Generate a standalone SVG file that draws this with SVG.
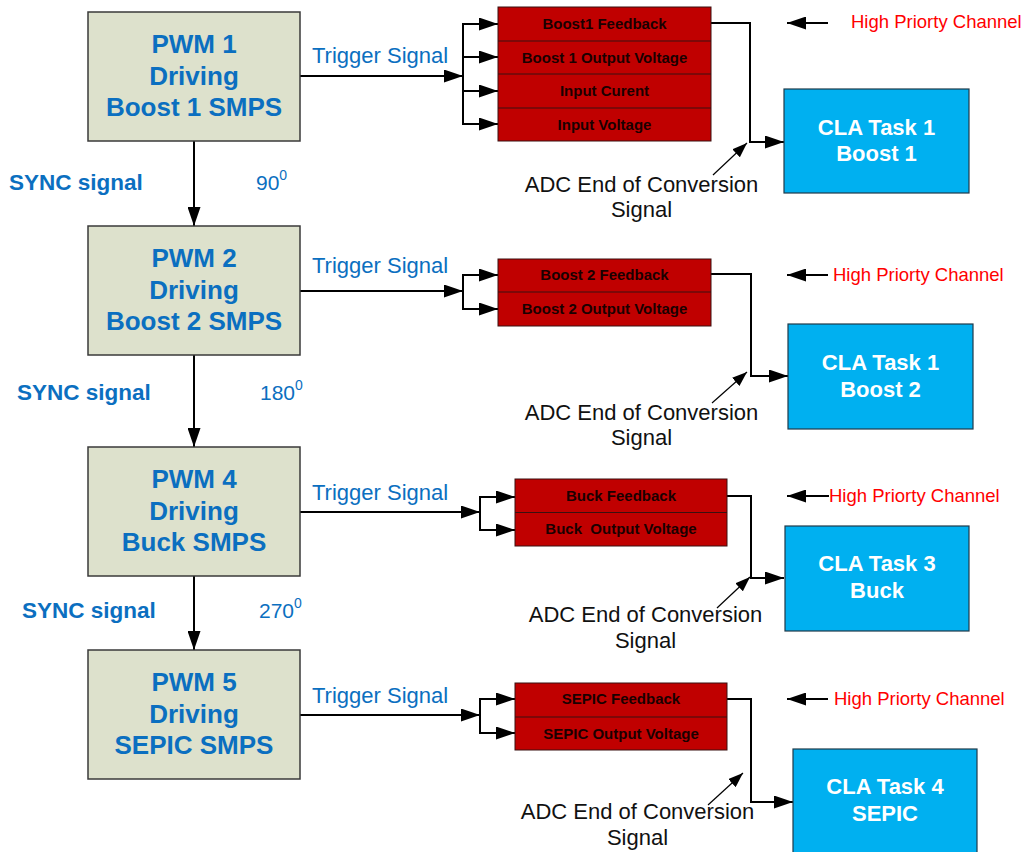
<svg xmlns="http://www.w3.org/2000/svg" width="1025" height="852" viewBox="0 0 1025 852">
  <style>
    text { font-family: "Liberation Sans", Arial, sans-serif; }
    .pwm rect { fill: #dde1cc; stroke: #3a3a3a; stroke-width: 1.5; }
    .pwm text { fill: #0b6fc0; font-size: 26px; font-weight: bold; text-anchor: middle; }
    .tbl rect { fill: #c00000; stroke: #3a1010; stroke-width: 1; }
    .tbl line { stroke: #3a1010; stroke-width: 1; }
    .tbl text { fill: #1a0000; font-size: 15px; font-weight: bold; text-anchor: middle; white-space: pre; }
    .cla rect { fill: #00b0f0; stroke: #1f3a4a; stroke-width: 1.2; }
    .cla text { fill: #ffffff; font-size: 22px; font-weight: bold; text-anchor: middle; }
    .sync { fill: #0b6fc0; font-size: 22.5px; font-weight: bold; }
    .deg { fill: #0b6fc0; font-size: 21px; }
    .trig { fill: #0b6fc0; font-size: 22px; }
    .prio { fill: #ff0000; font-size: 18.5px; }
    .adc { fill: #111111; font-size: 22px; text-anchor: middle; }
    .wire { fill: none; stroke: #000; stroke-width: 2; }
    .thin { fill: none; stroke: #000; stroke-width: 1.2; }
  </style>
  <defs>
    <marker id="head" markerUnits="userSpaceOnUse" markerWidth="19" markerHeight="13" refX="19" refY="6.5" orient="auto">
      <path d="M0,0 L19,6.5 L0,13 z" fill="#000"/>
    </marker>
    <marker id="headSmall" markerUnits="userSpaceOnUse" markerWidth="15" markerHeight="11" refX="15" refY="5.5" orient="auto">
      <path d="M0,0 L15,5.5 L0,11 z" fill="#000"/>
    </marker>
  </defs>

  <!-- connectors -->
  <g id="connectors">
    <!-- sync chain -->
    <line class="wire" x1="194" y1="141" x2="194" y2="226" marker-end="url(#head)"/>
    <line class="wire" x1="194" y1="355" x2="194" y2="447" marker-end="url(#head)"/>
    <line class="wire" x1="194" y1="576" x2="194" y2="650" marker-end="url(#head)"/>

    <!-- section 1: trigger fan-out -->
    <line class="wire" x1="300" y1="76" x2="463" y2="76" marker-end="url(#head)"/>
    <line class="wire" x1="463" y1="23" x2="463" y2="125"/>
    <line class="wire" x1="463" y1="24" x2="498" y2="24" marker-end="url(#head)"/>
    <line class="wire" x1="463" y1="57" x2="498" y2="57" marker-end="url(#head)"/>
    <line class="wire" x1="463" y1="91" x2="498" y2="91" marker-end="url(#head)"/>
    <line class="wire" x1="463" y1="124" x2="498" y2="124" marker-end="url(#head)"/>
    <polyline class="wire" points="711,23 750,23 750,142 784,142" marker-end="url(#head)"/>
    <line class="wire" x1="828" y1="23" x2="787" y2="23" marker-end="url(#head)"/>
    <line class="thin" x1="713" y1="175" x2="747" y2="143" marker-end="url(#headSmall)"/>

    <!-- section 2 -->
    <line class="wire" x1="300" y1="291" x2="463" y2="291" marker-end="url(#head)"/>
    <line class="wire" x1="463" y1="274" x2="463" y2="310"/>
    <line class="wire" x1="463" y1="275" x2="498" y2="275" marker-end="url(#head)"/>
    <line class="wire" x1="463" y1="309" x2="498" y2="309" marker-end="url(#head)"/>
    <polyline class="wire" points="711,274 751,274 751,376 788,376" marker-end="url(#head)"/>
    <line class="wire" x1="828" y1="275" x2="787" y2="275" marker-end="url(#head)"/>
    <line class="thin" x1="712" y1="403" x2="747" y2="372" marker-end="url(#headSmall)"/>

    <!-- section 3 -->
    <line class="wire" x1="300" y1="512" x2="480" y2="512" marker-end="url(#head)"/>
    <line class="wire" x1="480" y1="496" x2="480" y2="531"/>
    <line class="wire" x1="480" y1="497" x2="515" y2="497" marker-end="url(#head)"/>
    <line class="wire" x1="480" y1="530" x2="515" y2="530" marker-end="url(#head)"/>
    <polyline class="wire" points="727,496 751,496 751,578 784,578" marker-end="url(#head)"/>
    <line class="wire" x1="829" y1="496" x2="787" y2="496" marker-end="url(#head)"/>
    <line class="thin" x1="717" y1="608" x2="750" y2="577" marker-end="url(#headSmall)"/>

    <!-- section 4 -->
    <line class="wire" x1="300" y1="715" x2="480" y2="715" marker-end="url(#head)"/>
    <line class="wire" x1="480" y1="698" x2="480" y2="734"/>
    <line class="wire" x1="480" y1="699" x2="515" y2="699" marker-end="url(#head)"/>
    <line class="wire" x1="480" y1="733" x2="515" y2="733" marker-end="url(#head)"/>
    <polyline class="wire" points="727,699 751,699 751,802 793,802" marker-end="url(#head)"/>
    <line class="wire" x1="828" y1="699" x2="787" y2="699" marker-end="url(#head)"/>
    <line class="thin" x1="708" y1="805" x2="743" y2="773" marker-end="url(#headSmall)"/>
  </g>

  <!-- PWM blocks -->
  <g id="pwm1" class="pwm">
    <rect x="88" y="12" width="212" height="129"/>
    <text x="194" y="53">PWM 1</text>
    <text x="194" y="84.5">Driving</text>
    <text x="194" y="116">Boost 1 SMPS</text>
  </g>
  <g id="pwm2" class="pwm">
    <rect x="88" y="226" width="212" height="129"/>
    <text x="194" y="267">PWM 2</text>
    <text x="194" y="298.5">Driving</text>
    <text x="194" y="330">Boost 2 SMPS</text>
  </g>
  <g id="pwm4" class="pwm">
    <rect x="88" y="447" width="212" height="129"/>
    <text x="194" y="488">PWM 4</text>
    <text x="194" y="519.5">Driving</text>
    <text x="194" y="551">Buck SMPS</text>
  </g>
  <g id="pwm5" class="pwm">
    <rect x="88" y="650" width="212" height="129"/>
    <text x="194" y="691">PWM 5</text>
    <text x="194" y="722.5">Driving</text>
    <text x="194" y="754">SEPIC SMPS</text>
  </g>

  <!-- sync labels and phase offsets -->
  <g id="sync-labels">
    <text class="sync" x="9" y="190">SYNC signal</text>
    <text class="deg" x="256" y="190">90<tspan font-size="14" dy="-10">0</tspan></text>
    <text class="sync" x="17" y="400">SYNC signal</text>
    <text class="deg" x="260" y="400">180<tspan font-size="14" dy="-10">0</tspan></text>
    <text class="sync" x="22" y="618">SYNC signal</text>
    <text class="deg" x="259" y="618">270<tspan font-size="14" dy="-10">0</tspan></text>
  </g>

  <!-- trigger labels -->
  <g id="trigger-labels">
    <text class="trig" x="312" y="63">Trigger Signal</text>
    <text class="trig" x="312" y="273">Trigger Signal</text>
    <text class="trig" x="312" y="500">Trigger Signal</text>
    <text class="trig" x="312" y="703">Trigger Signal</text>
  </g>

  <!-- ADC channel tables -->
  <g id="adc1" class="tbl">
    <rect x="498" y="7" width="213" height="134"/>
    <line x1="498" y1="41" x2="711" y2="41"/>
    <line x1="498" y1="74" x2="711" y2="74"/>
    <line x1="498" y1="108" x2="711" y2="108"/>
    <text x="604.5" y="28.5">Boost1 Feedback</text>
    <text x="604.5" y="62.5">Boost 1 Output Voltage</text>
    <text x="604.5" y="95.5">Input Curent</text>
    <text x="604.5" y="129.5">Input Voltage</text>
  </g>
  <g id="adc2" class="tbl">
    <rect x="498" y="259" width="213" height="67"/>
    <line x1="498" y1="292" x2="711" y2="292"/>
    <text x="604.5" y="280">Boost 2 Feedback</text>
    <text x="604.5" y="314">Boost 2 Output Voltage</text>
  </g>
  <g id="adc3" class="tbl">
    <rect x="515" y="479" width="212" height="67"/>
    <line x1="515" y1="512.5" x2="727" y2="512.5"/>
    <text x="621" y="500.5">Buck Feedback</text>
    <text x="621" y="534">Buck  Output Voltage</text>
  </g>
  <g id="adc4" class="tbl">
    <rect x="515" y="683" width="212" height="67"/>
    <line x1="515" y1="717" x2="727" y2="717"/>
    <text x="621" y="704">SEPIC Feedback</text>
    <text x="621" y="738.5">SEPIC Output Voltage</text>
  </g>

  <!-- CLA tasks -->
  <g id="cla1" class="cla">
    <rect x="784" y="89" width="185" height="104"/>
    <text x="876.5" y="135">CLA Task 1</text>
    <text x="876.5" y="161">Boost 1</text>
  </g>
  <g id="cla2" class="cla">
    <rect x="788" y="324" width="185" height="105"/>
    <text x="880.5" y="369.5">CLA Task 1</text>
    <text x="880.5" y="396.5">Boost 2</text>
  </g>
  <g id="cla3" class="cla">
    <rect x="785" y="526" width="184" height="105"/>
    <text x="877" y="571">CLA Task 3</text>
    <text x="877" y="598">Buck</text>
  </g>
  <g id="cla4" class="cla">
    <rect x="793" y="749" width="184" height="108"/>
    <text x="885" y="794">CLA Task 4</text>
    <text x="885" y="821">SEPIC</text>
  </g>

  <!-- priority notes -->
  <g id="priority-labels">
    <text class="prio" x="851" y="28">High Priorty Channel</text>
    <text class="prio" x="833" y="281">High Priorty Channel</text>
    <text class="prio" x="829" y="502">High Priorty Channel</text>
    <text class="prio" x="834" y="705">High Priorty Channel</text>
  </g>

  <!-- end-of-conversion notes -->
  <g id="eoc-labels">
    <text class="adc" x="641.5" y="192">ADC End of Conversion</text>
    <text class="adc" x="641.5" y="217">Signal</text>
    <text class="adc" x="641.5" y="420">ADC End of Conversion</text>
    <text class="adc" x="641.5" y="445">Signal</text>
    <text class="adc" x="645.5" y="622">ADC End of Conversion</text>
    <text class="adc" x="645.5" y="648">Signal</text>
    <text class="adc" x="637.5" y="819">ADC End of Conversion</text>
    <text class="adc" x="637.5" y="845">Signal</text>
  </g>
</svg>
